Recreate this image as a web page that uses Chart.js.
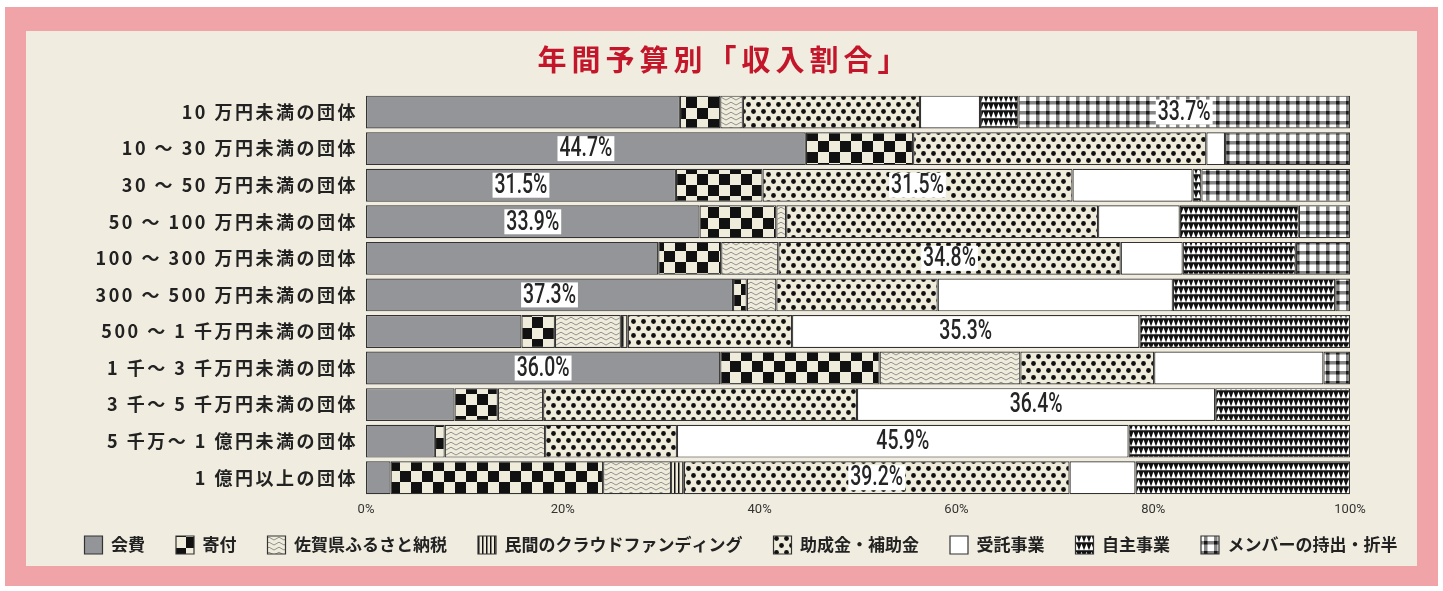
<!DOCTYPE html>
<html lang="ja">
<head>
<meta charset="utf-8">
<script src="https://cdn.jsdelivr.net/npm/chart.js@4.4.1/dist/chart.umd.min.js"></script>
<style>
  html, body { margin: 0; padding: 0; background: #fff; }
  #frame { position: absolute; left: 5px; top: 7px; width: 1433px; height: 579px; background: #f0a4a8; }
  #panel { position: absolute; left: 21px; top: 24px; width: 1391px; height: 535px; background: #f0ede0; }
  canvas { display: block; }
</style>
</head>
<body>
<div id="frame"><div id="panel"><canvas id="chart" width="1391" height="535"></canvas></div></div>
<script>
const categories = [
  '10 万円未満の団体', '10 ～ 30 万円未満の団体', '30 ～ 50 万円未満の団体',
  '50 ～ 100 万円未満の団体', '100 ～ 300 万円未満の団体', '300 ～ 500 万円未満の団体',
  '500 ～ 1 千万円未満の団体', '1 千～ 3 千万円未満の団体', '3 千～ 5 千万円未満の団体',
  '5 千万～ 1 億円未満の団体', '1 億円以上の団体'
];
const seriesNames = ['会費', '寄付', '佐賀県ふるさと納税', '民間のクラウドファンディング',
  '助成金・補助金', '受託事業', '自主事業', 'メンバーの持出・折半'];

// percent per category, top to bottom
const kaihi    = [31.9, 44.7, 31.5, 33.9, 29.7, 37.3, 15.8, 36.0,  9.0,  7.0,  2.5];
const kifu     = [ 4.1, 10.9,  8.8,  7.8,  6.4,  1.4,  3.4, 16.2,  4.4,  1.0, 21.6];
const furusato = [ 2.3,  0,    0,    1.0,  5.8,  3.0,  6.7, 14.3,  4.6, 10.2,  6.9];
const crowd    = [ 0,    0,    0,    0,    0,    0,    0.7,  0,    0,    0,    1.3];
const josei    = [18.0, 29.8, 31.5, 31.7, 34.8, 16.4, 16.7, 13.6, 31.9, 13.4, 39.2];
const jutaku   = [ 6.1,  1.9, 12.2,  8.3,  6.3, 23.9, 35.3, 17.2, 36.4, 45.9,  6.7];
const jishu    = [ 3.9,  0,    0.9, 12.1, 11.5, 16.5, 21.4,  0,   13.7, 22.5, 21.8];
const member   = [33.7, 12.7, 15.1,  5.2,  5.5,  1.5,  0,    2.7,  0,    0,    0];

const xTickStep = 20;
// [category index, series index] of the values printed on the bars
const labelledCells = [[0, 7], [1, 0], [2, 0], [2, 4], [3, 0], [4, 4], [5, 0], [6, 5], [7, 0], [8, 5], [9, 5], [10, 4]];

const CREAM = '#f0ecdc';

function makePattern(w, h, draw) {
  const c = document.createElement('canvas');
  c.width = w; c.height = h;
  const g = c.getContext('2d');
  draw(g, w, h);
  return g.createPattern(c, 'repeat');
}

const checker = makePattern(22, 22, (g) => {
  g.fillStyle = CREAM; g.fillRect(0, 0, 22, 22);
  g.fillStyle = '#111'; g.fillRect(0, 0, 11, 11); g.fillRect(11, 11, 11, 11);
});
const zigzag = makePattern(10, 5, (g) => {
  g.fillStyle = CREAM; g.fillRect(0, 0, 10, 5);
  g.strokeStyle = '#7a7a7a'; g.lineWidth = 0.8;
  g.beginPath(); g.moveTo(0, 4); g.lineTo(5, 1.2); g.lineTo(10, 4); g.stroke();
});
const vlines = makePattern(4, 4, (g) => {
  g.fillStyle = CREAM; g.fillRect(0, 0, 4, 4);
  g.fillStyle = '#111'; g.fillRect(0, 0, 1.5, 4);
});
const dots = makePattern(10, 14, (g) => {
  g.fillStyle = CREAM; g.fillRect(0, 0, 10, 14);
  g.fillStyle = '#111';
  g.beginPath(); g.arc(2.5, 3.5, 2.4, 0, Math.PI * 2); g.fill();
  g.beginPath(); g.arc(7.5, 10.5, 2.4, 0, Math.PI * 2); g.fill();
});
const triangles = makePattern(5, 8, (g) => {
  g.fillStyle = '#111'; g.fillRect(0, 0, 5, 8);
  g.fillStyle = '#fff';
  g.beginPath(); g.moveTo(0, 7.2); g.lineTo(2.5, 0.8); g.lineTo(5, 7.2); g.closePath(); g.fill();
});
const grid = makePattern(10, 10, (g) => {
  g.fillStyle = '#fff'; g.fillRect(0, 0, 10, 10);
  g.fillStyle = '#858585'; g.fillRect(0, 0, 3.5, 10); g.fillRect(0, 0, 10, 3.5);
  g.fillStyle = '#1a1a1a'; g.fillRect(0, 0, 3.5, 3.5);
});

const seriesValues = [kaihi, kifu, furusato, crowd, josei, jutaku, jishu, member];
const fills = ['#939598', checker, zigzag, vlines, dots, '#ffffff', triangles, grid];

const datasets = seriesNames.map((name, i) => ({
  label: name,
  data: seriesValues[i].map(v => (v === 0 ? null : v)),
  backgroundColor: fills[i],
  borderColor: '#333',
  borderWidth: 1.2,
  borderSkipped: false,
  categoryPercentage: 0.9,
  barPercentage: 1.0,
  xAxisID: 'x',
  yAxisID: 'y'
}));

// letter spacing for category labels / title, and nudge title + legend sideways
function wrapDraw(chart, obj, fnName, spacing, dx) {
  if (!obj || obj['_w_' + fnName]) return;
  const orig = obj[fnName].bind(obj);
  obj[fnName] = (...args) => {
    const ctx = chart.ctx;
    ctx.save();
    ctx.letterSpacing = spacing;
    ctx.translate(dx, 0);
    orig(...args);
    ctx.restore();
  };
  obj['_w_' + fnName] = true;
}
const spacingPlugin = {
  id: 'spacing',
  beforeDraw(chart) {
    wrapDraw(chart, chart.scales.y, 'drawLabels', '2.5px', 0);
    wrapDraw(chart, chart.titleBlock, 'draw', '5px', 3);
    wrapDraw(chart, chart.legend, 'draw', '0px', 28);
  }
};

const valueLabels = {
  id: 'valueLabels',
  afterDatasetsDraw(chart) {
    const ctx = chart.ctx;
    const sx = 0.72;
    ctx.save();
    ctx.font = '500 27px Roboto, "DejaVu Sans", sans-serif';
    ctx.textAlign = 'center';
    ctx.textBaseline = 'middle';
    labelledCells.forEach(([row, s]) => {
      const el = chart.getDatasetMeta(s).data[row];
      const text = seriesValues[s][row].toFixed(1) + '%';
      const cx = (el.x + el.base) / 2;
      const w = ctx.measureText(text).width * sx + 4;
      ctx.fillStyle = '#fff';
      ctx.fillRect(cx - w / 2, el.y - 12.5, w, 25);
      ctx.save();
      ctx.translate(cx, el.y + 1);
      ctx.scale(sx, 1);
      ctx.fillStyle = '#252525';
      ctx.fillText(text, 0, 0);
      ctx.restore();
    });
    ctx.restore();
  }
};

new Chart(document.getElementById('chart'), {
  type: 'bar',
  data: { labels: categories, datasets },
  plugins: [spacingPlugin, valueLabels],
  options: {
    indexAxis: 'y',
    responsive: false,
    animation: false,
    devicePixelRatio: 1,
    layout: { padding: { left: 0, right: 0, top: 0, bottom: 2 } },
    scales: {
      x: {
        stacked: true, min: 0, max: 100,
        grid: { display: false, drawTicks: false }, border: { display: false },
        ticks: {
          stepSize: xTickStep, padding: 6, color: '#333',
          font: { family: 'Roboto, sans-serif', size: 13 },
          callback: v => v + '%'
        },
        afterFit(scale) { scale.height = 26; }
      },
      y: {
        stacked: true,
        grid: { display: false }, border: { display: false },
        ticks: {
          padding: 0, color: '#222',
          font: { family: '"Noto Sans CJK JP", sans-serif', size: 18, weight: 'bold' }
        },
        afterFit(scale) { scale.width = 340; }
      },
      // empty strip on the right of the bars
      yRight: {
        type: 'category', position: 'right',
        grid: { display: false }, border: { display: false },
        ticks: { display: false },
        afterFit(scale) { scale.width = 67; }
      }
    },
    plugins: {
      title: {
        display: true,
        text: '年間予算別「収入割合」',
        color: '#c4162a',
        font: { family: '"Noto Sans CJK JP", sans-serif', size: 29, weight: 'bold' },
        padding: { top: 12, bottom: 16 }
      },
      legend: {
        position: 'bottom',
        labels: {
          boxWidth: 18, boxHeight: 18, padding: 14, color: '#222',
          font: { family: '"Noto Sans CJK JP", sans-serif', size: 17, weight: 'bold' },
          generateLabels(chart) {
            return Chart.defaults.plugins.legend.labels.generateLabels(chart)
              .map(item => ({ ...item, text: item.text + '\u3000' }));
          }
        }
      },
      tooltip: { enabled: false }
    }
  }
});
</script>
</body>
</html>
